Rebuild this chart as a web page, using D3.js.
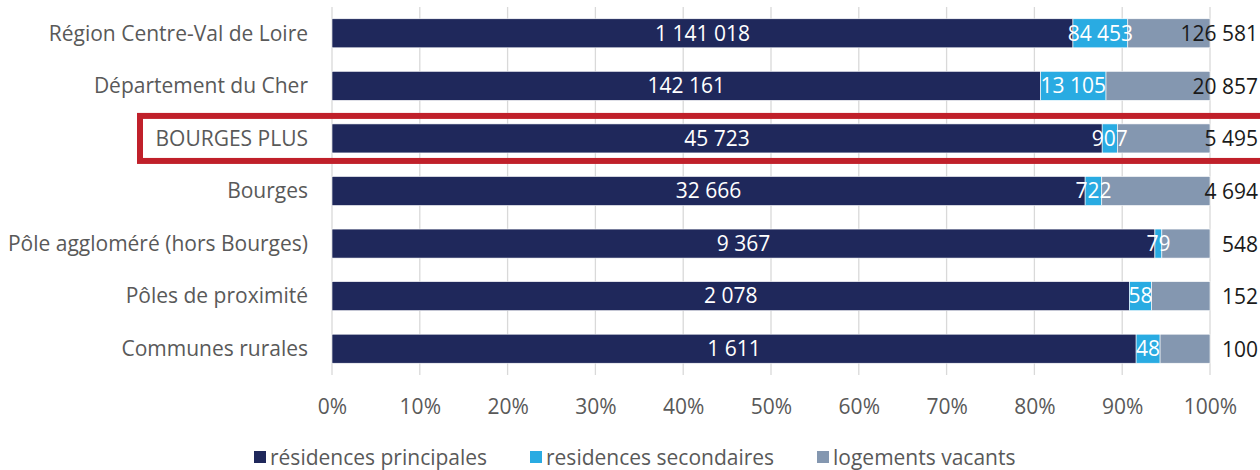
<!DOCTYPE html>
<html><head><meta charset="utf-8">
<script src="https://cdn.jsdelivr.net/npm/d3@7"></script>
<style>
html,body{margin:0;padding:0;background:#fff;}
svg{display:block;font-family:"Open Sans",sans-serif;}
</style></head>
<body>
<svg id="c" width="1260" height="470"></svg>
<script>
const categories = ["Région Centre-Val de Loire","Département du Cher","BOURGES PLUS","Bourges","Pôle aggloméré (hors Bourges)","Pôles de proximité","Communes rurales"];
const principales = [1141018,142161,45723,32666,9367,2078,1611];
const secondaires = [84453,13105,907,722,79,58,48];
const vacants = [126581,20857,5495,4694,548,152,100];
const seriesNames = ["résidences principales","residences secondaires","logements vacants"];
const colors = ["#1F285B","#29ABE2","#8497B0"];
const ticks = [0,0.1,0.2,0.3,0.4,0.5,0.6,0.7,0.8,0.9,1];
const highlight = "BOURGES PLUS";

const svg = d3.select("#c");
const x = d3.scaleLinear().domain([0,1]).range([332,1210]);
const y = d3.scaleBand().domain(categories).range([7,375]).paddingInner(0.448).paddingOuter(0.224);

const fmt = v => d3.format(",")(v).replace(/,/g," ");
const FS = 21;

svg.append("g").selectAll("line").data(ticks).join("line")
  .attr("x1",d=>x(d)).attr("x2",d=>x(d)).attr("y1",7).attr("y2",375)
  .attr("stroke","#d9d9d9").attr("stroke-width",1.3);

const rows = categories.map((c,i)=>{
  const vals=[principales[i],secondaires[i],vacants[i]];
  const tot=d3.sum(vals);
  let acc=0;
  return vals.map((v,k)=>{const s={cat:c,k,v,x0:acc/tot,x1:(acc+v)/tot};acc+=v;return s;});
});
const segs = rows.flat();

svg.append("g").selectAll("rect").data(segs).join("rect")
  .attr("x",d=>x(d.x0)).attr("width",d=>x(d.x1)-x(d.x0))
  .attr("y",d=>y(d.cat)).attr("height",y.bandwidth())
  .attr("fill",d=>colors[d.k]).attr("stroke","#ffffff").attr("stroke-width",0.6);

const lab = svg.append("g").attr("font-size",FS);
lab.selectAll("text.in").data(segs.filter(d=>d.k<2)).join("text")
  .attr("x",d=>(x(d.x0)+x(d.x1))/2).attr("y",d=>y(d.cat)+y.bandwidth()/2)
  .attr("dy","0.35em").attr("text-anchor","middle").attr("fill","#fff")
  .text(d=>fmt(d.v));
lab.selectAll("text.out").data(segs.filter(d=>d.k===2)).join("text")
  .attr("x",1258).attr("y",d=>y(d.cat)+y.bandwidth()/2)
  .attr("dy","0.38em").attr("text-anchor","end").attr("fill","#1a1a1a")
  .text(d=>fmt(d.v));

svg.append("g").selectAll("text").data(categories).join("text")
  .attr("x",308).attr("y",d=>y(d)+y.bandwidth()/2).attr("dy","0.35em")
  .attr("text-anchor","end").attr("font-size",FS).attr("fill","#595959").text(d=>d);

const xa = d3.axisBottom(x).tickValues(ticks).tickFormat(d3.format(".0%")).tickSize(0).tickPadding(0);
const gx = svg.append("g").attr("transform","translate(0,414)").call(xa);
gx.select(".domain").remove();
gx.selectAll("text").attr("font-size",FS).attr("fill","#595959").attr("font-family","'Open Sans',sans-serif").attr("dy","0").attr("y",0);

svg.append("rect").attr("x",140).attr("y",y(highlight)-8).attr("width",1140)
  .attr("height",y.bandwidth()+16).attr("fill","none").attr("stroke","#C0202A").attr("stroke-width",6);

const legX=[254,530,817];
const lg = svg.append("g").selectAll("g").data(seriesNames).join("g")
  .attr("transform",(d,i)=>`translate(${legX[i]},451)`);
lg.append("rect").attr("width",12).attr("height",12).attr("fill",(d,i)=>colors[i]);
lg.append("text").attr("x",16).attr("y",13.5).attr("font-size",FS).attr("fill","#595959").text(d=>d);
</script>
</body></html>
